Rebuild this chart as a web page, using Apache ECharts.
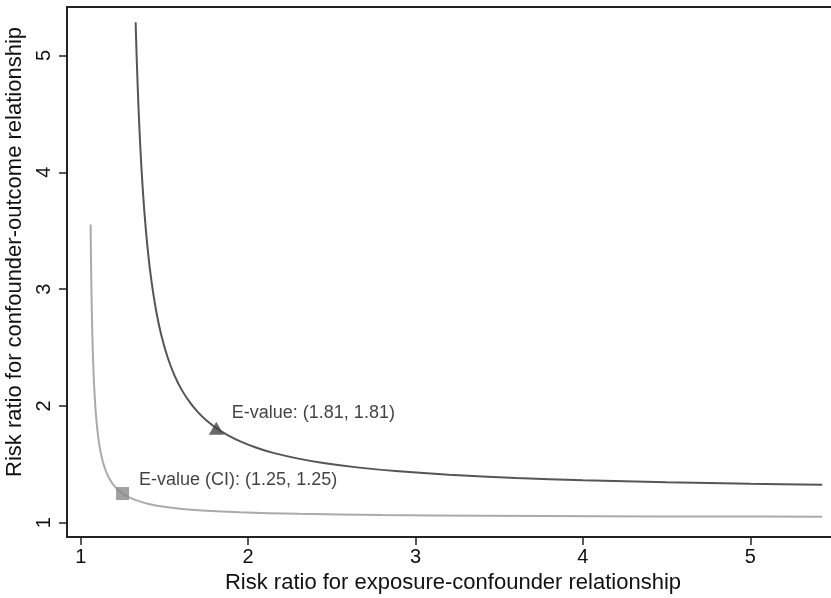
<!DOCTYPE html>
<html>
<head>
<meta charset="utf-8">
<script src="https://cdn.jsdelivr.net/npm/echarts@6/dist/echarts.min.js"></script>
<style>
  html, body { margin: 0; padding: 0; background: #fff; }
  #evaluechart { width: 831px; height: 598px; }
</style>
</head>
<body>
<div id="evaluechart"></div>
<script>
// curve for the point estimate
var pointX = [1.328, 1.335, 1.345, 1.355, 1.365, 1.38, 1.40, 1.42, 1.45, 1.48, 1.52, 1.56, 1.60, 1.65, 1.70, 1.75, 1.81, 1.88, 1.96, 2.05, 2.15, 2.30, 2.45, 2.65, 2.90, 3.20, 3.60, 4.00, 4.50, 5.00, 5.43];
var pointY = [5.285, 4.951, 4.560, 4.244, 3.983, 3.666, 3.343, 3.097, 2.819, 2.614, 2.412, 2.262, 2.146, 2.034, 1.947, 1.877, 1.810, 1.748, 1.692, 1.642, 1.598, 1.549, 1.511, 1.474, 1.440, 1.411, 1.384, 1.364, 1.347, 1.334, 1.325];
// curve for the confidence limit
var ciX = [1.059, 1.062, 1.066, 1.07, 1.075, 1.08, 1.087, 1.095, 1.105, 1.12, 1.14, 1.165, 1.20, 1.25, 1.31, 1.40, 1.52, 1.70, 1.95, 2.30, 2.80, 3.40, 4.10, 4.80, 5.43];
var ciY = [3.553, 3.182, 2.829, 2.577, 2.346, 2.176, 2.001, 1.857, 1.728, 1.596, 1.484, 1.394, 1.316, 1.250, 1.204, 1.163, 1.133, 1.108, 1.090, 1.076, 1.066, 1.060, 1.056, 1.053, 1.052];
// E-values
var evalPoint = [1.81, 1.81];
var evalCI = [1.25, 1.25];
var tickValues = [1, 2, 3, 4, 5];

function pairs(xs, ys) {
    return xs.map(function (x, i) { return [x, ys[i]]; });
}

const evalueChart = echarts.init(document.getElementById('evaluechart'));
var option = {
    animation: false,
    textStyle: { fontFamily: 'Liberation Sans, Arial, sans-serif' },
    grid: {
        left: 67, top: 7, width: 772, height: 530,
        outerBoundsMode: 'none',
        containLabel: false,
        show: true,
        borderColor: '#222',
        borderWidth: 2,
        backgroundColor: '#fff'
    },
    xAxis: {
        type: 'value',
        min: 0.918,
        max: 5.53,
        name: 'Risk ratio for exposure-confounder relationship',
        nameLocation: 'middle',
        nameGap: 28,
        nameTextStyle: { fontSize: 22, color: '#111' },
        axisLine: { show: false },
        axisTick: { show: true, length: 8, customValues: tickValues, lineStyle: { color: '#222', width: 1.5 } },
        axisLabel: { customValues: tickValues, fontSize: 20, color: '#111', margin: 10 },
        splitLine: { show: false }
    },
    yAxis: {
        type: 'value',
        min: 0.878,
        max: 5.415,
        name: 'Risk ratio for confounder-outcome relationship',
        nameLocation: 'middle',
        nameGap: 33,
        nameTextStyle: { fontSize: 22, color: '#111', padding: [0, 0, 0, 40] },
        axisLine: { show: false },
        axisTick: { show: true, length: 8, customValues: tickValues, lineStyle: { color: '#222', width: 1.5 } },
        axisLabel: { customValues: tickValues, fontSize: 20, color: '#111', margin: 13, rotate: 90 },
        splitLine: { show: false }
    },
    series: [
        {
            name: 'point',
            type: 'line',
            data: pairs(pointX, pointY),
            smooth: 0.3,
            showSymbol: false,
            lineStyle: { color: '#555', width: 2 }
        },
        {
            name: 'ci',
            type: 'line',
            data: pairs(ciX, ciY),
            smooth: 0.3,
            showSymbol: false,
            lineStyle: { color: '#aaa', width: 2 }
        },
        {
            name: 'E-value',
            type: 'scatter',
            data: [evalPoint],
            symbol: 'triangle',
            symbolSize: [15, 13],
            itemStyle: { color: '#444' },
            z: 5,
            label: {
                show: true,
                position: 'right',
                distance: 8,
                offset: [0, -15],
                fontSize: 18,
                color: '#111',
                formatter: function (p) {
                    return 'E-value: (' + p.value[0].toFixed(2) + ', ' + p.value[1].toFixed(2) + ')';
                }
            }
        },
        {
            name: 'E-value (CI)',
            type: 'scatter',
            data: [evalCI],
            symbol: 'rect',
            symbolSize: 13,
            itemStyle: { color: '#888' },
            z: 5,
            label: {
                show: true,
                position: 'right',
                distance: 10,
                offset: [0, -14],
                fontSize: 18,
                color: '#111',
                formatter: function (p) {
                    return 'E-value (CI): (' + p.value[0].toFixed(2) + ', ' + p.value[1].toFixed(2) + ')';
                }
            }
        }
    ]
};
option && evalueChart.setOption(option);
</script>
</body>
</html>
